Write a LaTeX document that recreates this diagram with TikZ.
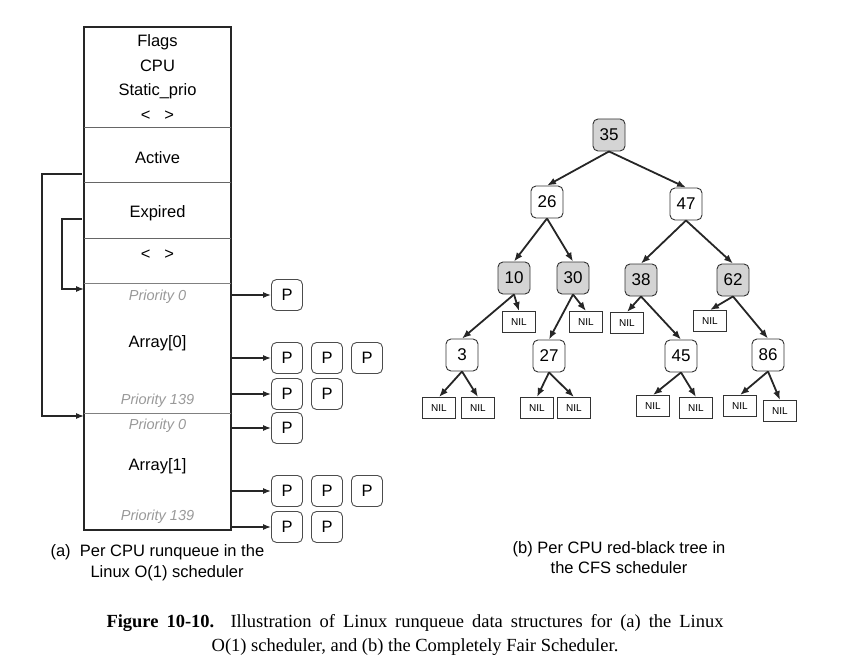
\documentclass[tikz,border=0pt]{standalone}
\usepackage{fontspec}
\setmainfont{Liberation Sans}
\newfontfamily\capfont{Liberation Serif}
\usetikzlibrary{arrows.meta}

\begin{document}
\begin{tikzpicture}[x=1pt,y=-1pt,
    lbl/.style={font=\fontsize{16.5}{20}\selectfont},
    prio/.style={font=\fontsize{14.5}{17}\selectfont\itshape,text=black!40},
    pbox/.style={draw=black!70,line width=0.9pt,rounded corners=5pt,minimum width=31pt,minimum height=31pt,inner sep=0pt,font=\fontsize{16.5}{20}\selectfont},
    key/.style={draw=black!80,line width=0.9pt,rounded corners=5pt,minimum width=32pt,minimum height=32pt,inner sep=0pt,font=\fontsize{17}{20}\selectfont},
    blk/.style={key,fill=black!17},
    nil/.style={draw=black!80,line width=0.9pt,minimum width=33pt,minimum height=21pt,inner sep=0pt,font=\fontsize{10}{12}\selectfont},
    ptr/.style={-{Latex[length=8pt,width=6pt]},line width=1.3pt,black!85},
    link/.style={-{Latex[length=9pt,width=7pt]},line width=1.8pt,black!85}]
  \useasboundingbox (0,0) rectangle (841,666);

  % runqueue struct
  \draw[line width=1.6pt,black!85] (84,27) rectangle (231,530);
  \foreach \y in {128,183,238} \draw[black!60,line width=1pt] (84,\y) -- (231,\y);
  \foreach \y in {283,413} \draw[black!50,line width=0.8pt] (84,\y) -- (231,\y);

  \node[lbl] (flags) at (157.5,42) {Flags};
  \node[lbl] (cpu) at (157.5,66) {CPU};
  \node[lbl] (sprio) at (157.5,91) {Static\_prio};
  \node[lbl] (more1) at (157.5,116) {<\hspace{14pt}>};
  \node[lbl] (active) at (157.5,158) {Active};
  \node[lbl] (expired) at (157.5,213) {Expired};
  \node[lbl] (more2) at (157.5,255) {<\hspace{14pt}>};
  \node[prio] (a0lo) at (157.5,297) {Priority 0};
  \node[lbl] (arr0) at (157.5,343) {Array[0]};
  \node[prio] (a0hi) at (157.5,401) {Priority 139};
  \node[prio] (a1lo) at (157.5,426) {Priority 0};
  \node[lbl] (arr1) at (157.5,466) {Array[1]};
  \node[prio] (a1hi) at (157.5,517) {Priority 139};

  % active / expired pointers
  \coordinate (actout) at (82,174);
  \coordinate (arr1in) at (84,416);
  \coordinate (expout) at (82,219);
  \coordinate (arr0in) at (84,289);
  \draw[ptr,line width=1.1pt] (actout) -- (42,174) -- (42,416) -- (arr1in);
  \draw[ptr,line width=1.1pt] (expout) -- (62,219) -- (62,289) -- (arr0in);

  % task lists
  \foreach \r/\y/\n in {a/295/1,b/358/3,c/394/2,d/428/1,e/491/3,f/527/2} {
    \foreach \k in {1,...,\n} \node[pbox] (p\r\k) at ({247+40*\k},\y) {P};
    \coordinate (s\r) at (232,\y);
    \draw[ptr] (s\r) -- (p\r1);
  }

  \node[anchor=west,font=\fontsize{16.5}{20}\selectfont] (capa1) at (47,552) {(a)\ \ Per CPU runqueue in the};
  \node[anchor=west,font=\fontsize{16.5}{20}\selectfont] (capa2) at (87,573) {Linux O(1) scheduler};

  % red-black tree
  \node[blk] (n35) at (609,135) {35};
  \node[key] (n26) at (547,202) {26};
  \node[key] (n47) at (686,204) {47};
  \node[blk] (n10) at (514,278) {10};
  \node[blk] (n30) at (573,278) {30};
  \node[blk] (n38) at (641,280) {38};
  \node[blk] (n62) at (733,280) {62};
  \node[nil] (nil10) at (519,322) {NIL};
  \node[nil] (nil30) at (586,322) {NIL};
  \node[nil] (nil38) at (627,323) {NIL};
  \node[nil] (nil62) at (710,321) {NIL};
  \node[key] (n3) at (462,355) {3};
  \node[key] (n27) at (549,356) {27};
  \node[key] (n45) at (681,356) {45};
  \node[key] (n86) at (768,355) {86};
  \node[nil] (nil3a) at (439,408) {NIL};
  \node[nil] (nil3b) at (478,408) {NIL};
  \node[nil] (nil27a) at (537,408) {NIL};
  \node[nil] (nil27b) at (574,408) {NIL};
  \node[nil] (nil45a) at (653,406) {NIL};
  \node[nil] (nil45b) at (696,408) {NIL};
  \node[nil] (nil86a) at (740,406) {NIL};
  \node[nil] (nil86b) at (780,411) {NIL};

  \foreach \a/\b in {n35/n26,n35/n47,n26/n10,n26/n30,n47/n38,n47/n62,
      n10/n3,n10/nil10,n30/n27,n30/nil30,n38/nil38,n38/n45,n62/nil62,n62/n86,
      n3/nil3a,n3/nil3b,n27/nil27a,n27/nil27b,n45/nil45a,n45/nil45b,n86/nil86a,n86/nil86b}
    \draw[link] (\a.south) -- (\b.north);

  \node[align=center,font=\fontsize{16.5}{20}\selectfont] (capb) at (619,558) {(b) Per CPU red-black tree in\\the CFS scheduler};

  % figure caption
  \node[align=center,font=\capfont\fontsize{18.5}{24}\selectfont] (fig) at (415,635)
    {\makebox[617pt][s]{\textbf{Figure 10-10.} Illustration of Linux runqueue data structures for (a) the Linux}\\
     O(1) scheduler, and (b) the Completely Fair Scheduler.};
\end{tikzpicture}
\end{document}
